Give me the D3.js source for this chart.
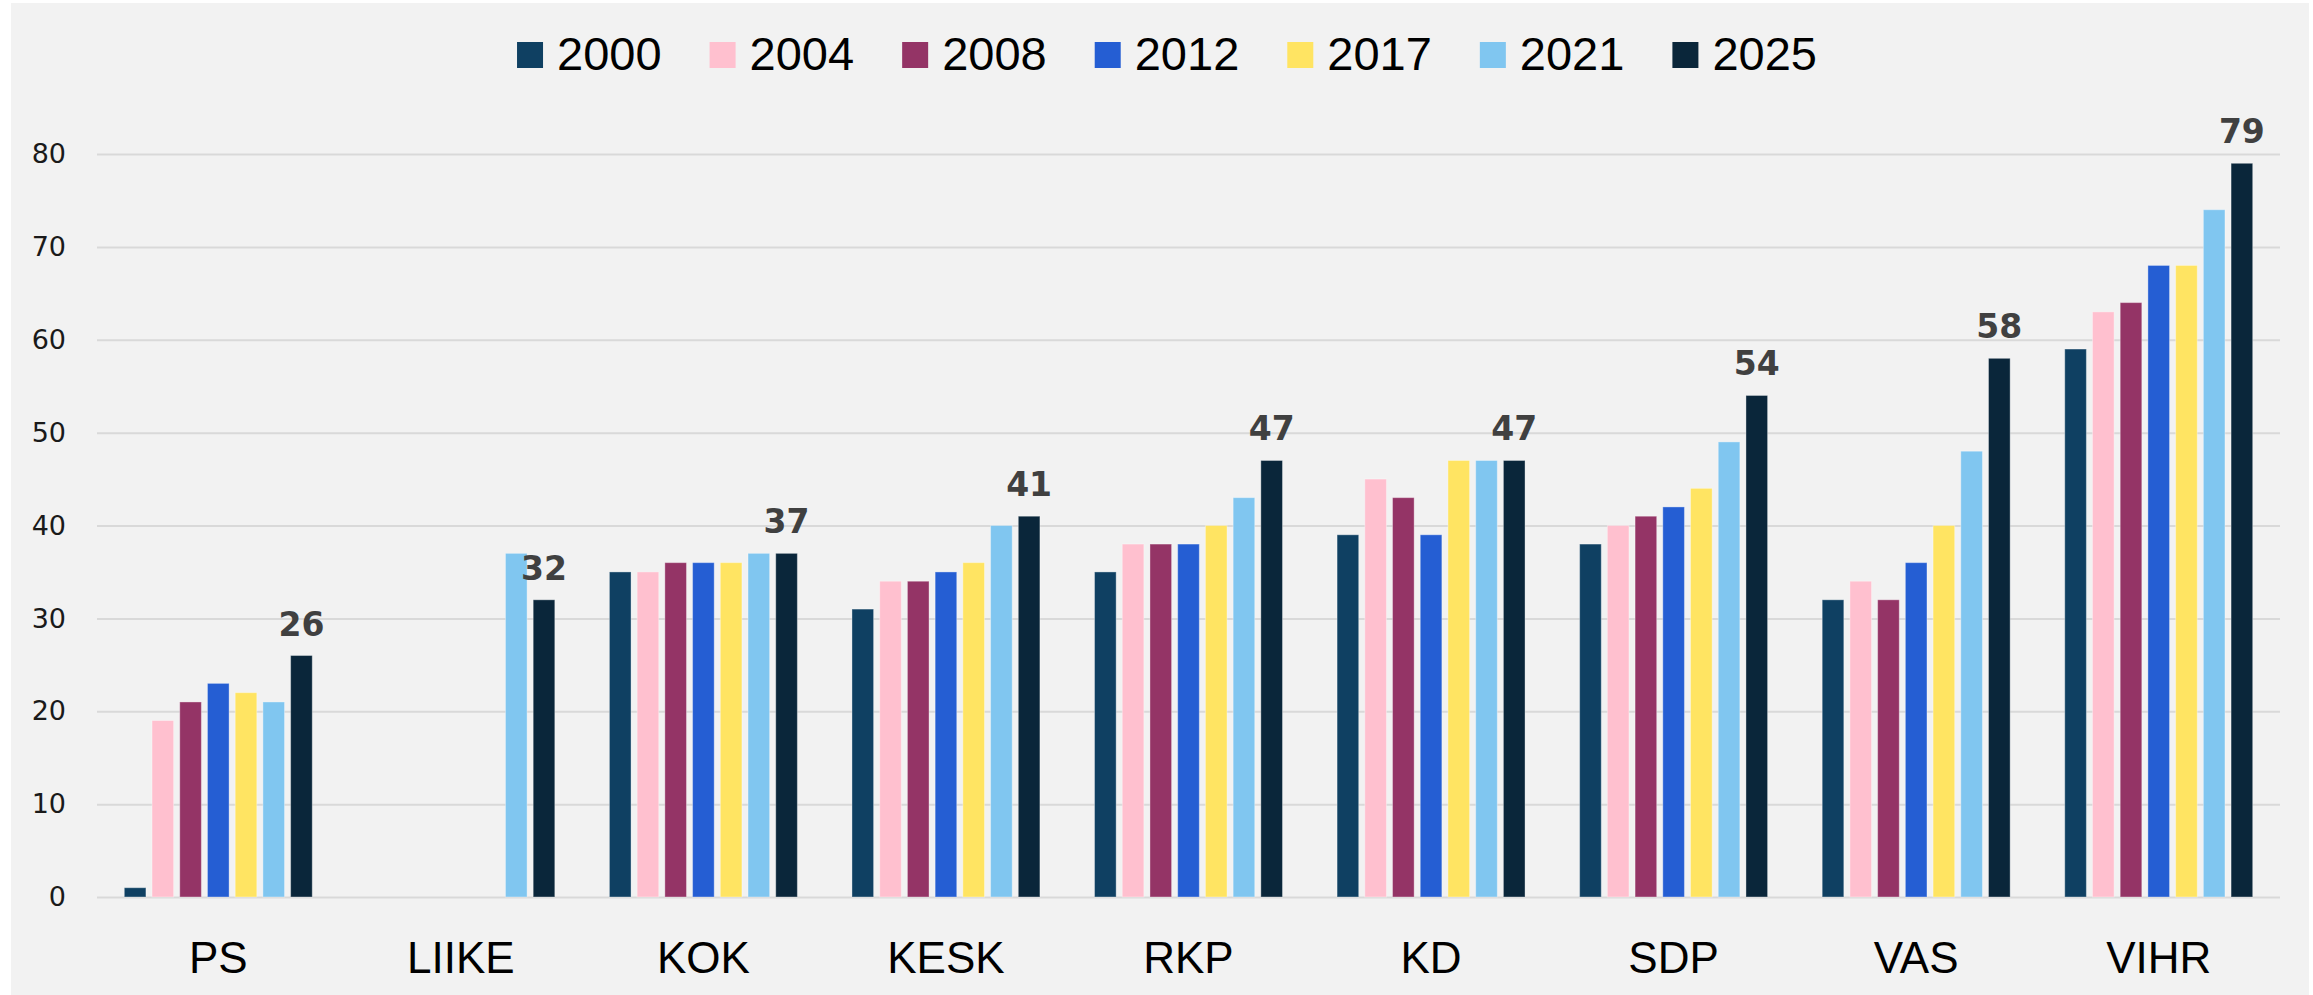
<!DOCTYPE html>
<html>
<head>
<meta charset="utf-8">
<script src="https://cdn.jsdelivr.net/npm/d3@7"></script>
<style>
  body { margin: 0; background: #ffffff; }
  svg { display: block; }
</style>
</head>
<body>
<svg id="chart" width="2313" height="995"></svg>
<script>

var parties = ['PS', 'LIIKE', 'KOK', 'KESK', 'RKP', 'KD', 'SDP', 'VAS', 'VIHR'];

var years = ['2000', '2004', '2008', '2012', '2017', '2021', '2025'];

var colors = ['#0f4062', '#ffc0cf', '#943466', '#255ed3', '#ffe462', '#80c6f0', '#0a263a'];

// one array per election year, in party order (null = party not running)
var v2000 = [1, null, 35, 31, 35, 39, 38, 32, 59];
var v2004 = [19, null, 35, 34, 38, 45, 40, 34, 63];
var v2008 = [21, null, 36, 34, 38, 43, 41, 32, 64];
var v2012 = [23, null, 36, 35, 38, 39, 42, 36, 68];
var v2017 = [22, null, 36, 36, 40, 47, 44, 40, 68];
var v2021 = [21, 37, 37, 40, 43, 47, 49, 48, 74];
var v2025 = [26, 32, 37, 41, 47, 47, 54, 58, 79];

var yTicks = [0, 10, 20, 30, 40, 50, 60, 70, 80];

var series = [v2000, v2004, v2008, v2012, v2017, v2021, v2025];

var svg = d3.select('#chart');

var W = 2313, H = 995;

var margin = { left: 97, right: 33, top: 154, bottom: 98 };

svg.append('rect')
    .attr('x', 11).attr('y', 3)
    .attr('width', W - 15).attr('height', H - 3)
    .attr('fill', '#f2f2f2');

var x0 = d3.scaleBand()
    .domain(parties)
    .range([margin.left, W - margin.right])
    .paddingInner(0)
    .paddingOuter(0);

var groupW = x0.bandwidth() * 0.8;

var x1 = d3.scaleBand()
    .domain(years)
    .range([0, groupW])
    .paddingInner(0.22)
    .paddingOuter(0.11);

var y = d3.scaleLinear()
    .domain([0, 80])
    .range([H - margin.bottom, margin.top]);

// gridlines
var yAxis = d3.axisLeft(y)
    .tickValues(yTicks)
    .tickSize(-(W - margin.right - margin.left))
    .tickPadding(31);

var gy = svg.append('g')
    .attr('transform', 'translate(' + margin.left + ',0)')
    .call(yAxis);

gy.select('.domain').remove();

gy.selectAll('.tick line')
    .attr('stroke', '#d9d9d9')
    .attr('stroke-width', 2);

gy.selectAll('.tick text')
    .attr('font-family', 'DejaVu Sans, sans-serif')
    .attr('font-size', 27)
    .attr('fill', '#1a1a1a');

// bars
var groups = svg.append('g')
    .selectAll('g')
    .data(parties)
    .enter()
    .append('g')
    .attr('transform', function(d) {
        return 'translate(' + (x0(d) + (x0.bandwidth() - groupW) / 2) + ',0)';
    });

groups.selectAll('rect')
    .data(function(p, pi) {
        return years.map(function(yr, i) {
            return { year: yr, idx: i, value: series[i][pi] };
        }).filter(function(d) { return d.value !== null; });
    })
    .enter()
    .append('rect')
    .attr('x', function(d) { return x1(d.year); })
    .attr('y', function(d) { return y(d.value); })
    .attr('width', x1.bandwidth())
    .attr('height', function(d) { return y(0) - y(d.value); })
    .attr('fill', function(d) { return colors[d.idx]; })
    .attr('stroke', 'rgba(255,255,255,0.35)')
    .attr('stroke-width', 1);

// value labels on the last year
groups.append('text')
    .attr('x', x1('2025') + x1.bandwidth() / 2)
    .attr('y', function(p, pi) { return y(v2025[pi]) - 20; })
    .attr('text-anchor', 'middle')
    .attr('font-family', 'DejaVu Sans, sans-serif')
    .attr('font-weight', 'bold')
    .attr('font-size', 33)
    .attr('fill', '#404040')
    .text(function(p, pi) { return v2025[pi]; });

// category labels
svg.append('g')
    .selectAll('text')
    .data(parties)
    .enter()
    .append('text')
    .attr('x', function(d) { return x0(d) + x0.bandwidth() / 2; })
    .attr('y', 973)
    .attr('text-anchor', 'middle')
    .attr('font-family', 'Liberation Sans, Arial, sans-serif')
    .attr('font-size', 44)
    .attr('fill', '#000')
    .text(function(d) { return d; });

// legend
var legend = svg.append('g');

var lx = 0;

years.forEach(function(yr, i) {

    var item = legend.append('g').attr('transform', 'translate(' + lx + ',0)');

    item.append('rect')
        .attr('x', 0).attr('y', 42)
        .attr('width', 26).attr('height', 26)
        .attr('fill', colors[i]);

    var t = item.append('text')
        .attr('x', 40).attr('y', 70)
        .attr('font-family', 'Liberation Sans, Arial, sans-serif')
        .attr('font-size', 47)
        .attr('fill', '#000')
        .text(yr);

    lx += 40 + t.node().getComputedTextLength() + 48;
});

var legendW = lx - 48;

legend.attr('transform', 'translate(' + (1167 - legendW / 2) + ',0)');

</script>
</body>
</html>
